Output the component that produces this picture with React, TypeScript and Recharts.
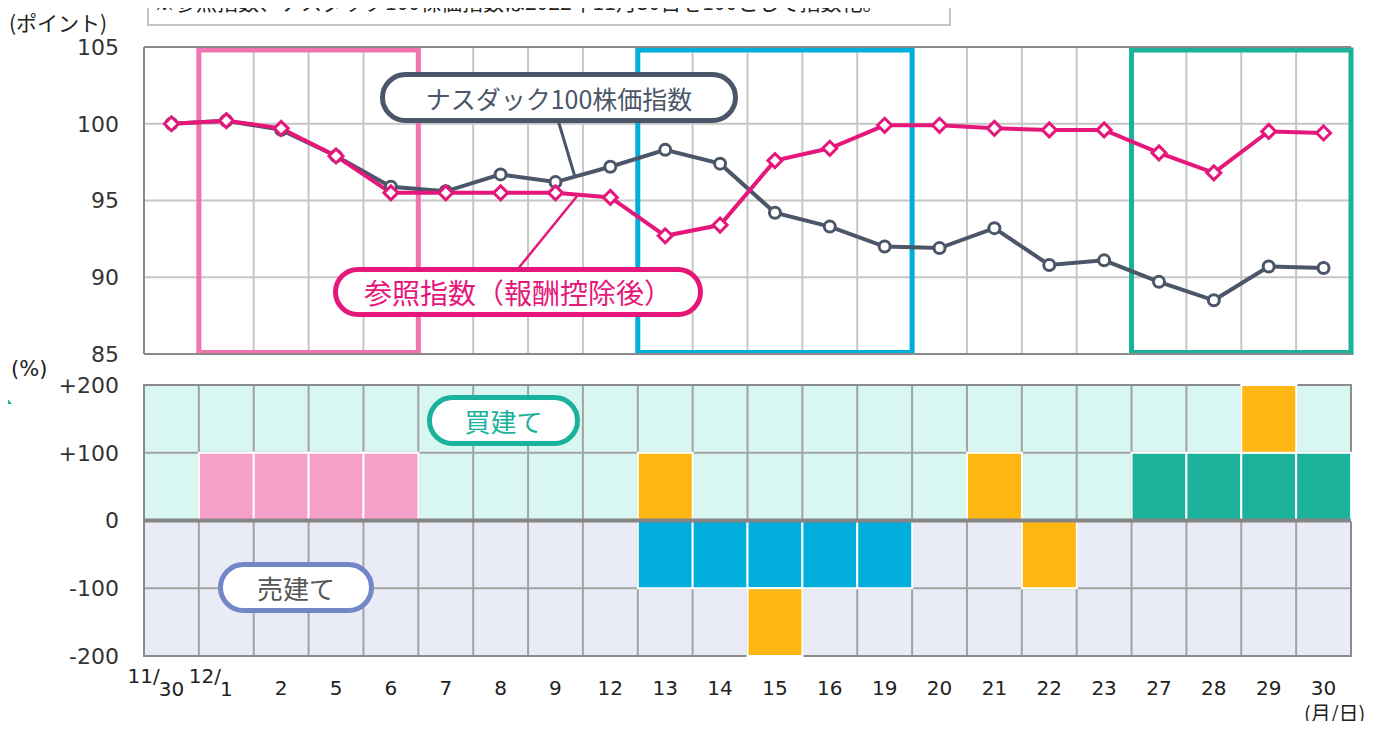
import React from "react";
import {
  ComposedChart,
  Line,
  Bar,
  Cell,
  XAxis,
  YAxis,
  CartesianGrid,
  ReferenceArea,
  ReferenceLine,
} from "recharts";

const days = ["11/30", "12/1", "2", "5", "6", "7", "8", "9", "12", "13", "14", "15", "16", "19", "20", "21", "22", "23", "27", "28", "29", "30"];
const nasdaq100 = [100, 100.2, 99.6, 97.9, 95.9, 95.6, 96.7, 96.2, 97.2, 98.3, 97.4, 94.2, 93.3, 92.0, 91.9, 93.2, 90.8, 91.1, 89.7, 88.5, 90.7, 90.6];
const referenceIndex = [100, 100.2, 99.7, 97.9, 95.5, 95.5, 95.5, 95.5, 95.2, 92.7, 93.4, 97.6, 98.4, 99.9, 99.9, 99.7, 99.6, 99.6, 98.1, 96.8, 99.5, 99.4];
// 各日のポジション（%）: 基本ポジションと追加分
const basePosition = [0, 100, 100, 100, 100, 0, 0, 0, 0, -100, -100, -100, -100, -100, 0, 0, 0, 0, 100, 100, 100, 100];
const extraPosition = [0, 0, 0, 0, 0, 0, 0, 0, 0, 100, 0, -100, 0, 0, 0, 100, -100, 0, 0, 0, 100, 0];
const phase = ["", "A", "A", "A", "A", "", "", "", "", "B", "B", "B", "B", "B", "", "", "", "", "C", "C", "C", "C"];
const pointTicks = [85, 90, 95, 100, 105];
const percentTicks = [-200, -100, 0, 100, 200];

const phaseColors: Record<string, string> = { A: "#f6a0c9", B: "#00addb", C: "#1bb29b" };
const boxColors: Record<string, string> = { A: "#f173b0", B: "#00aedb", C: "#1ab29b" };

const NAVY = "#4b5669";
const MAGENTA = "#e6177b";
const ORANGE = "#fdb612";
const MINT = "#d8f7f1";
const LAVENDER = "#e9ecf6";
const FONT = '"DejaVu Sans", "Noto Sans CJK JP", sans-serif';
const JP = '"Noto Sans CJK JP", sans-serif';

const lineData = days.map((day, i) => ({ day, nasdaq: nasdaq100[i], ref: referenceIndex[i] }));
const barData = days.map((day, i) => ({
  day,
  base: basePosition[i] === 0 ? null : basePosition[i],
  extra: extraPosition[i] === 0 ? null : extraPosition[i],
}));

const phaseRanges = ["A", "B", "C"].map((p) => ({
  key: p,
  from: days[phase.indexOf(p)],
  to: days[phase.lastIndexOf(p)],
}));

// category band edges from the plot offset, for the vertical grid
const bandEdges = ({ offset }: any) => {
  if (!offset) return [];
  const step = offset.width / days.length;
  return [...days.map((_, i) => offset.left + i * step), offset.left + offset.width];
};

function Diamond(props: any) {
  const { cx, cy } = props;
  if (cx == null || cy == null) return null;
  const r = 7;
  return (
    <path
      d={`M${cx},${cy - r}L${cx + r},${cy}L${cx},${cy + r}L${cx - r},${cy}Z`}
      fill="#fff"
      stroke={MAGENTA}
      strokeWidth={3}
    />
  );
}

function DayTick(props: any) {
  const { x, y, payload } = props;
  const v: string = payload.value;
  const style = { fontSize: 20, fill: "#222", fontFamily: FONT };
  const cut = v.indexOf("/");
  if (cut > 0) {
    const head = v.slice(0, cut + 1);
    const tail = v.slice(cut + 1);
    return (
      <g>
        <text x={x - tail.length * 6.4 + 1} y={y + 27} textAnchor="end" {...style}>
          {head}
        </text>
        <text x={x} y={y + 40} textAnchor="middle" {...style}>
          {tail}
        </text>
      </g>
    );
  }
  return (
    <text x={x} y={y + 39} textAnchor="middle" {...style}>
      {v}
    </text>
  );
}

function Pill({ left, top, width, height, color, textColor, size, children }: any) {
  return (
    <div
      style={{
        position: "absolute",
        left,
        top,
        width,
        height,
        boxSizing: "border-box",
        border: `5px solid ${color}`,
        borderRadius: height / 2,
        background: "#fff",
        display: "flex",
        alignItems: "center",
        justifyContent: "center",
        color: textColor,
        fontSize: size,
        fontFamily: JP,
        whiteSpace: "nowrap",
      }}
    >
      {children}
    </div>
  );
}

export default function App() {
  return (
    <div
      style={{
        position: "relative",
        width: 1381,
        height: 729,
        margin: -8,
        overflow: "hidden",
        background: "#fff",
        fontFamily: FONT,
      }}
    >
      {/* 注記 */}
      <div
        style={{
          position: "absolute",
          left: 147,
          top: -20,
          width: 804,
          height: 46,
          boxSizing: "border-box",
          border: "2px solid #c3c3c3",
        }}
      >
        <div
          style={{
            position: "absolute",
            left: 5,
            top: 9,
            fontSize: 21,
            lineHeight: "21px",
            fontFamily: JP,
            color: "#222",
            whiteSpace: "nowrap",
          }}
        >
          ※参照指数、ナスダック100株価指数は2022年11月30日を100として指数化。
        </div>
      </div>
      <div style={{ position: "absolute", left: 9, top: 8, fontSize: 21, fontFamily: JP, color: "#222", lineHeight: "28px" }}>
        (ポイント)
      </div>

      <div style={{ position: "absolute", left: 0, top: 0 }}>
        <ComposedChart
          width={1381}
          height={380}
          data={lineData}
          margin={{ top: 47, right: 30, bottom: 26, left: 0 }}
          style={{ overflow: "visible" }}
        >
          <XAxis dataKey="day" scale="band" hide />
          <YAxis
            domain={[85, 105]}
            ticks={pointTicks}
            interval={0}
            width={144}
            tickSize={0}
            tickMargin={25}
            axisLine={{ stroke: "#8a8a8a", strokeWidth: 2 }}
            tick={{ fontSize: 22, fill: "#333", fontFamily: FONT }}
          />
          <CartesianGrid stroke="#c6c6c6" strokeWidth={2} verticalCoordinatesGenerator={bandEdges} />
          <ReferenceLine y={105} stroke="#8a8a8a" strokeWidth={2} />
          <ReferenceLine y={85} stroke="#8a8a8a" strokeWidth={2} />
          <Line
            dataKey="nasdaq"
            stroke={NAVY}
            strokeWidth={4}
            dot={{ r: 5.5, fill: "#fff", stroke: NAVY, strokeWidth: 3 }}
            isAnimationActive={false}
          />
          <Line dataKey="ref" stroke={MAGENTA} strokeWidth={4} dot={<Diamond />} isAnimationActive={false} />
          {phaseRanges.map((r) => (
            <ReferenceArea
              key={r.key}
              x1={r.from}
              x2={r.to}
              y1={85.1}
              y2={104.8}
              fill="none"
              fillOpacity={0}
              stroke={boxColors[r.key]}
              strokeWidth={5}
              ifOverflow="visible"
            />
          ))}
        </ComposedChart>
      </div>

      <div style={{ position: "absolute", left: 11, top: 356, fontSize: 21, color: "#222", lineHeight: "26px" }}>(%)</div>

      <div style={{ position: "absolute", left: 0, top: 360 }}>
        <ComposedChart
          width={1381}
          height={369}
          data={barData}
          margin={{ top: 25, right: 30, bottom: 23, left: 0 }}
          stackOffset="sign"
          barCategoryGap={0}
          barGap={0}
        >
          <CartesianGrid
            stroke="#a3a3a3"
            strokeWidth={2}
            fillOpacity={1}
            horizontalFill={[MINT, MINT, LAVENDER, LAVENDER]}
            verticalCoordinatesGenerator={bandEdges}
          />
          <XAxis
            dataKey="day"
            interval={0}
            height={50}
            tickSize={0}
            tickMargin={0}
            tickLine={false}
            axisLine={false}
            tick={<DayTick />}
          />
          <YAxis
            domain={[-200, 200]}
            ticks={percentTicks}
            interval={0}
            width={144}
            tickSize={0}
            tickMargin={25}
            tickFormatter={(v: number) => (v > 0 ? `+${v}` : `${v}`)}
            axisLine={false}
            tick={{ fontSize: 22, fill: "#333", fontFamily: FONT }}
          />
          <Bar dataKey="base" stackId="pos" stroke="#fff" strokeWidth={2} isAnimationActive={false}>
            {barData.map((_, i) => (
              <Cell key={i} fill={phaseColors[phase[i]] || ORANGE} />
            ))}
          </Bar>
          <Bar dataKey="extra" stackId="pos" fill={ORANGE} stroke="#fff" strokeWidth={2} isAnimationActive={false} />
          <ReferenceLine y={0} stroke="#858585" strokeWidth={4} />
          <ReferenceArea y1={-200} y2={200} fill="none" fillOpacity={0} stroke="#8c8c8c" strokeWidth={2} />
        </ComposedChart>
      </div>

      <div style={{ position: "absolute", left: 1304, top: 700, fontSize: 20, fontFamily: JP, color: "#222", lineHeight: "26px" }}>
        (月/日)
      </div>

      <svg width={1381} height={729} style={{ position: "absolute", left: 0, top: 0, pointerEvents: "none" }}>
        <line x1={558} y1={120} x2={575} y2={177} stroke={NAVY} strokeWidth={3} />
        <line x1={517} y1={270} x2={578} y2={195} stroke={MAGENTA} strokeWidth={2.5} />
        <polygon points="2,392 12,404 0,404" fill="#1ab29b" />
        <polygon points="0,648 7,648 0,656" fill="#7186c8" />
      </svg>

      <Pill left={380} top={72} width={358} height={51} color={NAVY} textColor={NAVY} size={25}>
        ナスダック100株価指数
      </Pill>
      <Pill left={333} top={267} width={370} height={50} color={MAGENTA} textColor={MAGENTA} size={28}>
        参照指数（報酬控除後）
      </Pill>
      <Pill left={427} top={395} width={153} height={51} color="#1ab29b" textColor="#1ab29b" size={26}>
        買建て
      </Pill>
      <Pill left={218} top={562} width={156} height={51} color="#7286c8" textColor="#555" size={26}>
        売建て
      </Pill>
    </div>
  );
}
